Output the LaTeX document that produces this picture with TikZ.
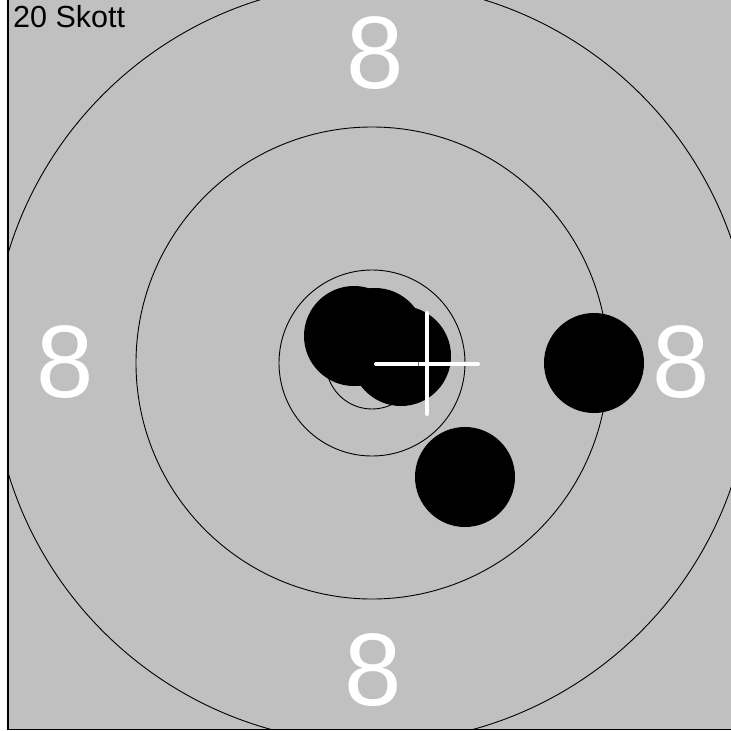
\documentclass[tikz,border=0pt]{standalone}
\usepackage{fontspec}
\setmainfont{Liberation Sans}
\definecolor{tgrey}{RGB}{192,192,192}
\begin{document}
\begin{tikzpicture}[x=1pt,y=-1pt,
  ring/.style={draw=black,line width=0.9pt},
  shot/.style={fill=black},
  ringnum/.style={text=white,font=\fontsize{103}{103}\selectfont,inner sep=0pt},
  crossline/.style={draw=white,line width=4pt,line cap=round}]
\useasboundingbox (0,0) rectangle (731,731);
\fill[white] (0,0) rectangle (731,731);
\fill[tgrey] (9,0) rectangle (731,729);
\coordinate (c) at (372,363);
\begin{scope}
  \clip (9,0) rectangle (731,729);
  \draw[ring] (c) circle[radius=380];
  \draw[ring] (c) circle[radius=236];
  \draw[ring] (c) circle[radius=93];
  \draw[ring] (c) circle[radius=46];
\end{scope}
\node[ringnum] (ntop) at (375,53) {8};
\node[ringnum] (nleft) at (65,362) {8};
\node[ringnum] (nright) at (681,362) {8};
\node[ringnum] (nbottom) at (373,670) {8};
\fill[shot] (354,336) circle[radius=50];
\fill[shot] (375,338) circle[radius=50];
\fill[shot] (401,356) circle[radius=50];
\fill[shot] (594,363) circle[radius=50];
\fill[shot] (465,477) circle[radius=50];
\coordinate (hl) at (376,364);
\coordinate (hr) at (478,364);
\coordinate (vt) at (427,313);
\coordinate (vb) at (427,414);
\draw[crossline] (hl) -- (hr);
\draw[crossline] (vt) -- (vb);
\draw[tgrey!60!black,line width=0.6pt] (418,362) -- (418,366);
\draw[black,line width=1.5pt] (8,0) -- (8,729.5) -- (731,729.5);
\node[anchor=base west,inner sep=0pt,font=\fontsize{30.5}{30.5}\selectfont] (title) at (13,27) {20 Skott};
\end{tikzpicture}
\end{document}
